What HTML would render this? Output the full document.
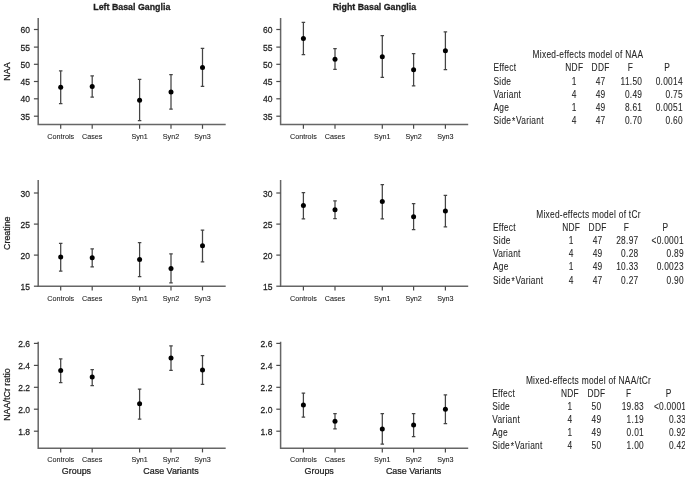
<!DOCTYPE html>
<html><head><meta charset="utf-8"><style>
html,body{margin:0;padding:0;background:#fff;width:685px;height:477px;overflow:hidden}
svg{display:block;will-change:transform;filter:blur(0.3px)}
text{font-family:"Liberation Sans", sans-serif;fill:#1e1e1e}
text.c{stroke:#1e1e1e;stroke-width:0.25px}
text.x{stroke:#1e1e1e;stroke-width:0.1px}
text.b{stroke:#1e1e1e;stroke-width:0.3px}
text.t{fill:#262626;stroke:#262626;stroke-width:0.08px;letter-spacing:0.3px}
</style></head><body>
<svg width="685" height="477" viewBox="0 0 685 477">
<text transform="translate(131.80,10.30) scale(0.92,1.0)" font-size="9.6" text-anchor="middle" font-weight="bold" class="b">Left Basal Ganglia</text>
<text transform="translate(374.40,10.30) scale(0.92,1.0)" font-size="9.6" text-anchor="middle" font-weight="bold" class="b">Right Basal Ganglia</text>
<text transform="translate(9.80,71.50) rotate(-90) scale(0.91,1.0)" font-size="9.8" text-anchor="middle" class="c">NAA</text>
<text transform="translate(9.90,233.20) rotate(-90) scale(0.92,1.0)" font-size="9.6" text-anchor="middle" class="c">Creatine</text>
<text transform="translate(9.90,394.60) rotate(-90) scale(0.93,1.0)" font-size="9.6" text-anchor="middle" class="c">NAA/tCr ratio</text>
<path d="M38.2 18.1V124.6H225.7" fill="none" stroke="#666" stroke-width="1.5"/>
<path d="M33.900000000000006 29.5H38.2" stroke="#4a4a4a" stroke-width="1.2"/>
<text transform="translate(30.00,33.10) scale(0.87,1.0)" font-size="9.8" text-anchor="end" class="c">60</text>
<path d="M33.900000000000006 47.1H38.2" stroke="#4a4a4a" stroke-width="1.2"/>
<text transform="translate(30.00,50.70) scale(0.87,1.0)" font-size="9.8" text-anchor="end" class="c">55</text>
<path d="M33.900000000000006 64.3H38.2" stroke="#4a4a4a" stroke-width="1.2"/>
<text transform="translate(30.00,67.90) scale(0.87,1.0)" font-size="9.8" text-anchor="end" class="c">50</text>
<path d="M33.900000000000006 81.5H38.2" stroke="#4a4a4a" stroke-width="1.2"/>
<text transform="translate(30.00,85.10) scale(0.87,1.0)" font-size="9.8" text-anchor="end" class="c">45</text>
<path d="M33.900000000000006 98.8H38.2" stroke="#4a4a4a" stroke-width="1.2"/>
<text transform="translate(30.00,102.40) scale(0.87,1.0)" font-size="9.8" text-anchor="end" class="c">40</text>
<path d="M33.900000000000006 116.2H38.2" stroke="#4a4a4a" stroke-width="1.2"/>
<text transform="translate(30.00,119.80) scale(0.87,1.0)" font-size="9.8" text-anchor="end" class="c">35</text>
<path d="M60.7 124.6V128.79999999999998" stroke="#4a4a4a" stroke-width="1.2"/>
<text transform="translate(60.70,138.90) scale(0.89,1.0)" font-size="8.1" text-anchor="middle" class="x">Controls</text>
<path d="M92.2 124.6V128.79999999999998" stroke="#4a4a4a" stroke-width="1.2"/>
<text transform="translate(92.20,138.90) scale(0.89,1.0)" font-size="8.1" text-anchor="middle" class="x">Cases</text>
<path d="M139.6 124.6V128.79999999999998" stroke="#4a4a4a" stroke-width="1.2"/>
<text transform="translate(139.60,138.90) scale(0.89,1.0)" font-size="8.1" text-anchor="middle" class="x">Syn1</text>
<path d="M171.0 124.6V128.79999999999998" stroke="#4a4a4a" stroke-width="1.2"/>
<text transform="translate(171.00,138.90) scale(0.89,1.0)" font-size="8.1" text-anchor="middle" class="x">Syn2</text>
<path d="M202.5 124.6V128.79999999999998" stroke="#4a4a4a" stroke-width="1.2"/>
<text transform="translate(202.50,138.90) scale(0.89,1.0)" font-size="8.1" text-anchor="middle" class="x">Syn3</text>
<path d="M60.7 70.8V103.6M58.95 70.8H62.45M58.95 103.6H62.45" stroke="#444" stroke-width="1.25"/>
<circle cx="60.7" cy="87.3" r="2.5" fill="#000"/>
<path d="M92.2 75.8V97.2M90.45 75.8H93.95M90.45 97.2H93.95" stroke="#444" stroke-width="1.25"/>
<circle cx="92.2" cy="86.5" r="2.5" fill="#000"/>
<path d="M139.6 79.39999999999999V120.6M137.85 79.39999999999999H141.35M137.85 120.6H141.35" stroke="#444" stroke-width="1.25"/>
<circle cx="139.6" cy="100.2" r="2.5" fill="#000"/>
<path d="M171.0 74.6V109.0M169.25 74.6H172.75M169.25 109.0H172.75" stroke="#444" stroke-width="1.25"/>
<circle cx="171.0" cy="92.0" r="2.5" fill="#000"/>
<path d="M202.5 48.4V86.39999999999999M200.75 48.4H204.25M200.75 86.39999999999999H204.25" stroke="#444" stroke-width="1.25"/>
<circle cx="202.5" cy="67.39999999999999" r="2.5" fill="#000"/>
<path d="M280.6 18.1V124.6H468.2" fill="none" stroke="#666" stroke-width="1.5"/>
<path d="M276.3 29.5H280.6" stroke="#4a4a4a" stroke-width="1.2"/>
<text transform="translate(272.40,33.10) scale(0.87,1.0)" font-size="9.8" text-anchor="end" class="c">60</text>
<path d="M276.3 47.1H280.6" stroke="#4a4a4a" stroke-width="1.2"/>
<text transform="translate(272.40,50.70) scale(0.87,1.0)" font-size="9.8" text-anchor="end" class="c">55</text>
<path d="M276.3 64.3H280.6" stroke="#4a4a4a" stroke-width="1.2"/>
<text transform="translate(272.40,67.90) scale(0.87,1.0)" font-size="9.8" text-anchor="end" class="c">50</text>
<path d="M276.3 81.5H280.6" stroke="#4a4a4a" stroke-width="1.2"/>
<text transform="translate(272.40,85.10) scale(0.87,1.0)" font-size="9.8" text-anchor="end" class="c">45</text>
<path d="M276.3 98.8H280.6" stroke="#4a4a4a" stroke-width="1.2"/>
<text transform="translate(272.40,102.40) scale(0.87,1.0)" font-size="9.8" text-anchor="end" class="c">40</text>
<path d="M276.3 116.2H280.6" stroke="#4a4a4a" stroke-width="1.2"/>
<text transform="translate(272.40,119.80) scale(0.87,1.0)" font-size="9.8" text-anchor="end" class="c">35</text>
<path d="M303.4 124.6V128.79999999999998" stroke="#4a4a4a" stroke-width="1.2"/>
<text transform="translate(303.40,138.90) scale(0.89,1.0)" font-size="8.1" text-anchor="middle" class="x">Controls</text>
<path d="M335.0 124.6V128.79999999999998" stroke="#4a4a4a" stroke-width="1.2"/>
<text transform="translate(335.00,138.90) scale(0.89,1.0)" font-size="8.1" text-anchor="middle" class="x">Cases</text>
<path d="M382.3 124.6V128.79999999999998" stroke="#4a4a4a" stroke-width="1.2"/>
<text transform="translate(382.30,138.90) scale(0.89,1.0)" font-size="8.1" text-anchor="middle" class="x">Syn1</text>
<path d="M413.6 124.6V128.79999999999998" stroke="#4a4a4a" stroke-width="1.2"/>
<text transform="translate(413.60,138.90) scale(0.89,1.0)" font-size="8.1" text-anchor="middle" class="x">Syn2</text>
<path d="M445.4 124.6V128.79999999999998" stroke="#4a4a4a" stroke-width="1.2"/>
<text transform="translate(445.40,138.90) scale(0.89,1.0)" font-size="8.1" text-anchor="middle" class="x">Syn3</text>
<path d="M303.4 22.400000000000002V54.599999999999994M301.65 22.400000000000002H305.15M301.65 54.599999999999994H305.15" stroke="#444" stroke-width="1.25"/>
<circle cx="303.4" cy="38.5" r="2.5" fill="#000"/>
<path d="M335.0 48.699999999999996V69.3M333.25 48.699999999999996H336.75M333.25 69.3H336.75" stroke="#444" stroke-width="1.25"/>
<circle cx="335.0" cy="59.199999999999996" r="2.5" fill="#000"/>
<path d="M382.3 35.699999999999996V77.39999999999999M380.55 35.699999999999996H384.05M380.55 77.39999999999999H384.05" stroke="#444" stroke-width="1.25"/>
<circle cx="382.3" cy="56.699999999999996" r="2.5" fill="#000"/>
<path d="M413.6 53.599999999999994V85.8M411.85 53.599999999999994H415.35M411.85 85.8H415.35" stroke="#444" stroke-width="1.25"/>
<circle cx="413.6" cy="69.7" r="2.5" fill="#000"/>
<path d="M445.4 31.8V69.7M443.65 31.8H447.15M443.65 69.7H447.15" stroke="#444" stroke-width="1.25"/>
<circle cx="445.4" cy="50.8" r="2.5" fill="#000"/>
<path d="M38.2 180.0V286.2H225.7" fill="none" stroke="#666" stroke-width="1.5"/>
<path d="M33.900000000000006 193.0H38.2" stroke="#4a4a4a" stroke-width="1.2"/>
<text transform="translate(30.00,196.60) scale(0.87,1.0)" font-size="9.8" text-anchor="end" class="c">30</text>
<path d="M33.900000000000006 224.1H38.2" stroke="#4a4a4a" stroke-width="1.2"/>
<text transform="translate(30.00,227.70) scale(0.87,1.0)" font-size="9.8" text-anchor="end" class="c">25</text>
<path d="M33.900000000000006 255.1H38.2" stroke="#4a4a4a" stroke-width="1.2"/>
<text transform="translate(30.00,258.70) scale(0.87,1.0)" font-size="9.8" text-anchor="end" class="c">20</text>
<path d="M33.900000000000006 286.2H38.2" stroke="#4a4a4a" stroke-width="1.2"/>
<text transform="translate(30.00,289.80) scale(0.87,1.0)" font-size="9.8" text-anchor="end" class="c">15</text>
<path d="M60.7 286.2V290.4" stroke="#4a4a4a" stroke-width="1.2"/>
<text transform="translate(60.70,300.50) scale(0.89,1.0)" font-size="8.1" text-anchor="middle" class="x">Controls</text>
<path d="M92.2 286.2V290.4" stroke="#4a4a4a" stroke-width="1.2"/>
<text transform="translate(92.20,300.50) scale(0.89,1.0)" font-size="8.1" text-anchor="middle" class="x">Cases</text>
<path d="M139.6 286.2V290.4" stroke="#4a4a4a" stroke-width="1.2"/>
<text transform="translate(139.60,300.50) scale(0.89,1.0)" font-size="8.1" text-anchor="middle" class="x">Syn1</text>
<path d="M171.0 286.2V290.4" stroke="#4a4a4a" stroke-width="1.2"/>
<text transform="translate(171.00,300.50) scale(0.89,1.0)" font-size="8.1" text-anchor="middle" class="x">Syn2</text>
<path d="M202.5 286.2V290.4" stroke="#4a4a4a" stroke-width="1.2"/>
<text transform="translate(202.50,300.50) scale(0.89,1.0)" font-size="8.1" text-anchor="middle" class="x">Syn3</text>
<path d="M60.7 243.3V271.0M58.95 243.3H62.45M58.95 271.0H62.45" stroke="#444" stroke-width="1.25"/>
<circle cx="60.7" cy="257.0" r="2.5" fill="#000"/>
<path d="M92.2 248.9V266.8M90.45 248.9H93.95M90.45 266.8H93.95" stroke="#444" stroke-width="1.25"/>
<circle cx="92.2" cy="257.7" r="2.5" fill="#000"/>
<path d="M139.6 242.60000000000002V276.6M137.85 242.60000000000002H141.35M137.85 276.6H141.35" stroke="#444" stroke-width="1.25"/>
<circle cx="139.6" cy="259.5" r="2.5" fill="#000"/>
<path d="M171.0 253.9V282.90000000000003M169.25 253.9H172.75M169.25 282.90000000000003H172.75" stroke="#444" stroke-width="1.25"/>
<circle cx="171.0" cy="268.6" r="2.5" fill="#000"/>
<path d="M202.5 230.0V261.90000000000003M200.75 230.0H204.25M200.75 261.90000000000003H204.25" stroke="#444" stroke-width="1.25"/>
<circle cx="202.5" cy="245.8" r="2.5" fill="#000"/>
<path d="M280.6 180.0V286.2H468.2" fill="none" stroke="#666" stroke-width="1.5"/>
<path d="M276.3 193.0H280.6" stroke="#4a4a4a" stroke-width="1.2"/>
<text transform="translate(272.40,196.60) scale(0.87,1.0)" font-size="9.8" text-anchor="end" class="c">30</text>
<path d="M276.3 224.1H280.6" stroke="#4a4a4a" stroke-width="1.2"/>
<text transform="translate(272.40,227.70) scale(0.87,1.0)" font-size="9.8" text-anchor="end" class="c">25</text>
<path d="M276.3 255.1H280.6" stroke="#4a4a4a" stroke-width="1.2"/>
<text transform="translate(272.40,258.70) scale(0.87,1.0)" font-size="9.8" text-anchor="end" class="c">20</text>
<path d="M276.3 286.2H280.6" stroke="#4a4a4a" stroke-width="1.2"/>
<text transform="translate(272.40,289.80) scale(0.87,1.0)" font-size="9.8" text-anchor="end" class="c">15</text>
<path d="M303.4 286.2V290.4" stroke="#4a4a4a" stroke-width="1.2"/>
<text transform="translate(303.40,300.50) scale(0.89,1.0)" font-size="8.1" text-anchor="middle" class="x">Controls</text>
<path d="M335.0 286.2V290.4" stroke="#4a4a4a" stroke-width="1.2"/>
<text transform="translate(335.00,300.50) scale(0.89,1.0)" font-size="8.1" text-anchor="middle" class="x">Cases</text>
<path d="M382.3 286.2V290.4" stroke="#4a4a4a" stroke-width="1.2"/>
<text transform="translate(382.30,300.50) scale(0.89,1.0)" font-size="8.1" text-anchor="middle" class="x">Syn1</text>
<path d="M413.6 286.2V290.4" stroke="#4a4a4a" stroke-width="1.2"/>
<text transform="translate(413.60,300.50) scale(0.89,1.0)" font-size="8.1" text-anchor="middle" class="x">Syn2</text>
<path d="M445.4 286.2V290.4" stroke="#4a4a4a" stroke-width="1.2"/>
<text transform="translate(445.40,300.50) scale(0.89,1.0)" font-size="8.1" text-anchor="middle" class="x">Syn3</text>
<path d="M303.4 192.5V218.8M301.65 192.5H305.15M301.65 218.8H305.15" stroke="#444" stroke-width="1.25"/>
<circle cx="303.4" cy="205.5" r="2.5" fill="#000"/>
<path d="M335.0 200.9V218.5M333.25 200.9H336.75M333.25 218.5H336.75" stroke="#444" stroke-width="1.25"/>
<circle cx="335.0" cy="209.70000000000002" r="2.5" fill="#000"/>
<path d="M382.3 184.5V218.8M380.55 184.5H384.05M380.55 218.8H384.05" stroke="#444" stroke-width="1.25"/>
<circle cx="382.3" cy="201.60000000000002" r="2.5" fill="#000"/>
<path d="M413.6 203.70000000000002V229.70000000000002M411.85 203.70000000000002H415.35M411.85 229.70000000000002H415.35" stroke="#444" stroke-width="1.25"/>
<circle cx="413.6" cy="216.70000000000002" r="2.5" fill="#000"/>
<path d="M445.4 195.3V226.9M443.65 195.3H447.15M443.65 226.9H447.15" stroke="#444" stroke-width="1.25"/>
<circle cx="445.4" cy="211.10000000000002" r="2.5" fill="#000"/>
<path d="M38.2 341.7V448.2H225.7" fill="none" stroke="#666" stroke-width="1.5"/>
<path d="M33.900000000000006 343.4H38.2" stroke="#4a4a4a" stroke-width="1.2"/>
<text transform="translate(30.00,347.00) scale(0.87,1.0)" font-size="9.8" text-anchor="end" class="c">2.6</text>
<path d="M33.900000000000006 365.4H38.2" stroke="#4a4a4a" stroke-width="1.2"/>
<text transform="translate(30.00,369.00) scale(0.87,1.0)" font-size="9.8" text-anchor="end" class="c">2.4</text>
<path d="M33.900000000000006 387.3H38.2" stroke="#4a4a4a" stroke-width="1.2"/>
<text transform="translate(30.00,390.90) scale(0.87,1.0)" font-size="9.8" text-anchor="end" class="c">2.2</text>
<path d="M33.900000000000006 409.2H38.2" stroke="#4a4a4a" stroke-width="1.2"/>
<text transform="translate(30.00,412.80) scale(0.87,1.0)" font-size="9.8" text-anchor="end" class="c">2.0</text>
<path d="M33.900000000000006 431.2H38.2" stroke="#4a4a4a" stroke-width="1.2"/>
<text transform="translate(30.00,434.80) scale(0.87,1.0)" font-size="9.8" text-anchor="end" class="c">1.8</text>
<path d="M60.7 448.2V452.4" stroke="#4a4a4a" stroke-width="1.2"/>
<text transform="translate(60.70,461.70) scale(0.89,1.0)" font-size="8.1" text-anchor="middle" class="x">Controls</text>
<path d="M92.2 448.2V452.4" stroke="#4a4a4a" stroke-width="1.2"/>
<text transform="translate(92.20,461.70) scale(0.89,1.0)" font-size="8.1" text-anchor="middle" class="x">Cases</text>
<path d="M139.6 448.2V452.4" stroke="#4a4a4a" stroke-width="1.2"/>
<text transform="translate(139.60,461.70) scale(0.89,1.0)" font-size="8.1" text-anchor="middle" class="x">Syn1</text>
<path d="M171.0 448.2V452.4" stroke="#4a4a4a" stroke-width="1.2"/>
<text transform="translate(171.00,461.70) scale(0.89,1.0)" font-size="8.1" text-anchor="middle" class="x">Syn2</text>
<path d="M202.5 448.2V452.4" stroke="#4a4a4a" stroke-width="1.2"/>
<text transform="translate(202.50,461.70) scale(0.89,1.0)" font-size="8.1" text-anchor="middle" class="x">Syn3</text>
<path d="M60.7 358.8V382.7M58.95 358.8H62.45M58.95 382.7H62.45" stroke="#444" stroke-width="1.25"/>
<circle cx="60.7" cy="370.40000000000003" r="2.5" fill="#000"/>
<path d="M92.2 369.7V385.5M90.45 369.7H93.95M90.45 385.5H93.95" stroke="#444" stroke-width="1.25"/>
<circle cx="92.2" cy="377.1" r="2.5" fill="#000"/>
<path d="M139.6 389.0V419.1M137.85 389.0H141.35M137.85 419.1H141.35" stroke="#444" stroke-width="1.25"/>
<circle cx="139.6" cy="403.7" r="2.5" fill="#000"/>
<path d="M171.0 345.90000000000003V370.40000000000003M169.25 345.90000000000003H172.75M169.25 370.40000000000003H172.75" stroke="#444" stroke-width="1.25"/>
<circle cx="171.0" cy="358.1" r="2.5" fill="#000"/>
<path d="M202.5 355.7V384.40000000000003M200.75 355.7H204.25M200.75 384.40000000000003H204.25" stroke="#444" stroke-width="1.25"/>
<circle cx="202.5" cy="370.1" r="2.5" fill="#000"/>
<text transform="translate(76.45,473.80) scale(0.93,1.0)" font-size="9.6" text-anchor="middle" class="c">Groups</text>
<text transform="translate(171.00,473.80) scale(0.93,1.0)" font-size="9.6" text-anchor="middle" class="c">Case Variants</text>
<path d="M280.6 341.7V448.2H468.2" fill="none" stroke="#666" stroke-width="1.5"/>
<path d="M276.3 343.4H280.6" stroke="#4a4a4a" stroke-width="1.2"/>
<text transform="translate(272.40,347.00) scale(0.87,1.0)" font-size="9.8" text-anchor="end" class="c">2.6</text>
<path d="M276.3 365.4H280.6" stroke="#4a4a4a" stroke-width="1.2"/>
<text transform="translate(272.40,369.00) scale(0.87,1.0)" font-size="9.8" text-anchor="end" class="c">2.4</text>
<path d="M276.3 387.3H280.6" stroke="#4a4a4a" stroke-width="1.2"/>
<text transform="translate(272.40,390.90) scale(0.87,1.0)" font-size="9.8" text-anchor="end" class="c">2.2</text>
<path d="M276.3 409.2H280.6" stroke="#4a4a4a" stroke-width="1.2"/>
<text transform="translate(272.40,412.80) scale(0.87,1.0)" font-size="9.8" text-anchor="end" class="c">2.0</text>
<path d="M276.3 431.2H280.6" stroke="#4a4a4a" stroke-width="1.2"/>
<text transform="translate(272.40,434.80) scale(0.87,1.0)" font-size="9.8" text-anchor="end" class="c">1.8</text>
<path d="M303.4 448.2V452.4" stroke="#4a4a4a" stroke-width="1.2"/>
<text transform="translate(303.40,461.70) scale(0.89,1.0)" font-size="8.1" text-anchor="middle" class="x">Controls</text>
<path d="M335.0 448.2V452.4" stroke="#4a4a4a" stroke-width="1.2"/>
<text transform="translate(335.00,461.70) scale(0.89,1.0)" font-size="8.1" text-anchor="middle" class="x">Cases</text>
<path d="M382.3 448.2V452.4" stroke="#4a4a4a" stroke-width="1.2"/>
<text transform="translate(382.30,461.70) scale(0.89,1.0)" font-size="8.1" text-anchor="middle" class="x">Syn1</text>
<path d="M413.6 448.2V452.4" stroke="#4a4a4a" stroke-width="1.2"/>
<text transform="translate(413.60,461.70) scale(0.89,1.0)" font-size="8.1" text-anchor="middle" class="x">Syn2</text>
<path d="M445.4 448.2V452.4" stroke="#4a4a4a" stroke-width="1.2"/>
<text transform="translate(445.40,461.70) scale(0.89,1.0)" font-size="8.1" text-anchor="middle" class="x">Syn3</text>
<path d="M303.4 393.2V417.0M301.65 393.2H305.15M301.65 417.0H305.15" stroke="#444" stroke-width="1.25"/>
<circle cx="303.4" cy="405.1" r="2.5" fill="#000"/>
<path d="M335.0 413.5V428.90000000000003M333.25 413.5H336.75M333.25 428.90000000000003H336.75" stroke="#444" stroke-width="1.25"/>
<circle cx="335.0" cy="421.2" r="2.5" fill="#000"/>
<path d="M382.3 413.5V444.0M380.55 413.5H384.05M380.55 444.0H384.05" stroke="#444" stroke-width="1.25"/>
<circle cx="382.3" cy="428.90000000000003" r="2.5" fill="#000"/>
<path d="M413.6 413.5V436.6M411.85 413.5H415.35M411.85 436.6H415.35" stroke="#444" stroke-width="1.25"/>
<circle cx="413.6" cy="425.1" r="2.5" fill="#000"/>
<path d="M445.4 394.90000000000003V423.7M443.65 394.90000000000003H447.15M443.65 423.7H447.15" stroke="#444" stroke-width="1.25"/>
<circle cx="445.4" cy="409.3" r="2.5" fill="#000"/>
<text transform="translate(319.20,473.80) scale(0.93,1.0)" font-size="9.6" text-anchor="middle" class="c">Groups</text>
<text transform="translate(413.60,473.80) scale(0.93,1.0)" font-size="9.6" text-anchor="middle" class="c">Case Variants</text>
<text transform="translate(587.90,58.30) scale(0.93,1.12)" font-size="9.0" text-anchor="middle" class="t">Mixed-effects model of NAA</text>
<text transform="translate(493.40,71.40) scale(0.93,1.12)" font-size="9.0" class="t">Effect</text>
<text transform="translate(574.30,71.40) scale(0.93,1.12)" font-size="9.0" text-anchor="middle" class="t">NDF</text>
<text transform="translate(600.60,71.40) scale(0.93,1.12)" font-size="9.0" text-anchor="middle" class="t">DDF</text>
<text transform="translate(630.40,71.40) scale(0.93,1.12)" font-size="9.0" text-anchor="middle" class="t">F</text>
<text transform="translate(667.10,71.40) scale(0.93,1.12)" font-size="9.0" text-anchor="middle" class="t">P</text>
<text transform="translate(493.40,84.80) scale(0.93,1.12)" font-size="9.0" class="t">Side</text>
<text transform="translate(574.30,84.80) scale(0.93,1.12)" font-size="9.0" text-anchor="middle" class="t">1</text>
<text transform="translate(600.60,84.80) scale(0.93,1.12)" font-size="9.0" text-anchor="middle" class="t">47</text>
<text transform="translate(642.30,84.80) scale(0.93,1.12)" font-size="9.0" text-anchor="end" class="t">11.50</text>
<text transform="translate(682.90,84.80) scale(0.93,1.12)" font-size="9.0" text-anchor="end" class="t">0.0014</text>
<text transform="translate(493.40,97.90) scale(0.93,1.12)" font-size="9.0" class="t">Variant</text>
<text transform="translate(574.30,97.90) scale(0.93,1.12)" font-size="9.0" text-anchor="middle" class="t">4</text>
<text transform="translate(600.60,97.90) scale(0.93,1.12)" font-size="9.0" text-anchor="middle" class="t">49</text>
<text transform="translate(642.30,97.90) scale(0.93,1.12)" font-size="9.0" text-anchor="end" class="t">0.49</text>
<text transform="translate(682.90,97.90) scale(0.93,1.12)" font-size="9.0" text-anchor="end" class="t">0.75</text>
<text transform="translate(493.40,111.00) scale(0.93,1.12)" font-size="9.0" class="t">Age</text>
<text transform="translate(574.30,111.00) scale(0.93,1.12)" font-size="9.0" text-anchor="middle" class="t">1</text>
<text transform="translate(600.60,111.00) scale(0.93,1.12)" font-size="9.0" text-anchor="middle" class="t">49</text>
<text transform="translate(642.30,111.00) scale(0.93,1.12)" font-size="9.0" text-anchor="end" class="t">8.61</text>
<text transform="translate(682.90,111.00) scale(0.93,1.12)" font-size="9.0" text-anchor="end" class="t">0.0051</text>
<text transform="translate(493.40,124.10) scale(0.93,1.12)" font-size="9.0" class="t">Side<tspan dx="0.7" dy="1.1">*</tspan><tspan dx="0.6" dy="-1.1">Variant</tspan></text>
<text transform="translate(574.30,124.10) scale(0.93,1.12)" font-size="9.0" text-anchor="middle" class="t">4</text>
<text transform="translate(600.60,124.10) scale(0.93,1.12)" font-size="9.0" text-anchor="middle" class="t">47</text>
<text transform="translate(642.30,124.10) scale(0.93,1.12)" font-size="9.0" text-anchor="end" class="t">0.70</text>
<text transform="translate(682.90,124.10) scale(0.93,1.12)" font-size="9.0" text-anchor="end" class="t">0.60</text>
<text transform="translate(588.50,218.30) scale(0.93,1.12)" font-size="9.0" text-anchor="middle" class="t">Mixed-effects model of tCr</text>
<text transform="translate(492.90,231.10) scale(0.93,1.12)" font-size="9.0" class="t">Effect</text>
<text transform="translate(571.20,231.10) scale(0.93,1.12)" font-size="9.0" text-anchor="middle" class="t">NDF</text>
<text transform="translate(597.60,231.10) scale(0.93,1.12)" font-size="9.0" text-anchor="middle" class="t">DDF</text>
<text transform="translate(626.40,231.10) scale(0.93,1.12)" font-size="9.0" text-anchor="middle" class="t">F</text>
<text transform="translate(665.50,231.10) scale(0.93,1.12)" font-size="9.0" text-anchor="middle" class="t">P</text>
<text transform="translate(492.90,244.30) scale(0.93,1.12)" font-size="9.0" class="t">Side</text>
<text transform="translate(571.20,244.30) scale(0.93,1.12)" font-size="9.0" text-anchor="middle" class="t">1</text>
<text transform="translate(597.60,244.30) scale(0.93,1.12)" font-size="9.0" text-anchor="middle" class="t">47</text>
<text transform="translate(638.50,244.30) scale(0.93,1.12)" font-size="9.0" text-anchor="end" class="t">28.97</text>
<text transform="translate(683.90,244.30) scale(0.93,1.12)" font-size="9.0" text-anchor="end" class="t">&lt;0.0001</text>
<text transform="translate(492.90,257.20) scale(0.93,1.12)" font-size="9.0" class="t">Variant</text>
<text transform="translate(571.20,257.20) scale(0.93,1.12)" font-size="9.0" text-anchor="middle" class="t">4</text>
<text transform="translate(597.60,257.20) scale(0.93,1.12)" font-size="9.0" text-anchor="middle" class="t">49</text>
<text transform="translate(638.50,257.20) scale(0.93,1.12)" font-size="9.0" text-anchor="end" class="t">0.28</text>
<text transform="translate(683.90,257.20) scale(0.93,1.12)" font-size="9.0" text-anchor="end" class="t">0.89</text>
<text transform="translate(492.90,270.30) scale(0.93,1.12)" font-size="9.0" class="t">Age</text>
<text transform="translate(571.20,270.30) scale(0.93,1.12)" font-size="9.0" text-anchor="middle" class="t">1</text>
<text transform="translate(597.60,270.30) scale(0.93,1.12)" font-size="9.0" text-anchor="middle" class="t">49</text>
<text transform="translate(638.50,270.30) scale(0.93,1.12)" font-size="9.0" text-anchor="end" class="t">10.33</text>
<text transform="translate(683.90,270.30) scale(0.93,1.12)" font-size="9.0" text-anchor="end" class="t">0.0023</text>
<text transform="translate(492.90,283.60) scale(0.93,1.12)" font-size="9.0" class="t">Side<tspan dx="0.7" dy="1.1">*</tspan><tspan dx="0.6" dy="-1.1">Variant</tspan></text>
<text transform="translate(571.20,283.60) scale(0.93,1.12)" font-size="9.0" text-anchor="middle" class="t">4</text>
<text transform="translate(597.60,283.60) scale(0.93,1.12)" font-size="9.0" text-anchor="middle" class="t">47</text>
<text transform="translate(638.50,283.60) scale(0.93,1.12)" font-size="9.0" text-anchor="end" class="t">0.27</text>
<text transform="translate(683.90,283.60) scale(0.93,1.12)" font-size="9.0" text-anchor="end" class="t">0.90</text>
<text transform="translate(588.50,383.80) scale(0.93,1.12)" font-size="9.0" text-anchor="middle" class="t">Mixed-effects model of NAA/tCr</text>
<text transform="translate(492.20,396.60) scale(0.93,1.12)" font-size="9.0" class="t">Effect</text>
<text transform="translate(570.00,396.60) scale(0.93,1.12)" font-size="9.0" text-anchor="middle" class="t">NDF</text>
<text transform="translate(596.40,396.60) scale(0.93,1.12)" font-size="9.0" text-anchor="middle" class="t">DDF</text>
<text transform="translate(628.60,396.60) scale(0.93,1.12)" font-size="9.0" text-anchor="middle" class="t">F</text>
<text transform="translate(668.60,396.60) scale(0.93,1.12)" font-size="9.0" text-anchor="middle" class="t">P</text>
<text transform="translate(492.20,409.80) scale(0.93,1.12)" font-size="9.0" class="t">Side</text>
<text transform="translate(570.00,409.80) scale(0.93,1.12)" font-size="9.0" text-anchor="middle" class="t">1</text>
<text transform="translate(596.40,409.80) scale(0.93,1.12)" font-size="9.0" text-anchor="middle" class="t">50</text>
<text transform="translate(644.00,409.80) scale(0.93,1.12)" font-size="9.0" text-anchor="end" class="t">19.83</text>
<text transform="translate(686.30,409.80) scale(0.93,1.12)" font-size="9.0" text-anchor="end" class="t">&lt;0.0001</text>
<text transform="translate(492.20,422.90) scale(0.93,1.12)" font-size="9.0" class="t">Variant</text>
<text transform="translate(570.00,422.90) scale(0.93,1.12)" font-size="9.0" text-anchor="middle" class="t">4</text>
<text transform="translate(596.40,422.90) scale(0.93,1.12)" font-size="9.0" text-anchor="middle" class="t">49</text>
<text transform="translate(644.00,422.90) scale(0.93,1.12)" font-size="9.0" text-anchor="end" class="t">1.19</text>
<text transform="translate(686.30,422.90) scale(0.93,1.12)" font-size="9.0" text-anchor="end" class="t">0.33</text>
<text transform="translate(492.20,435.80) scale(0.93,1.12)" font-size="9.0" class="t">Age</text>
<text transform="translate(570.00,435.80) scale(0.93,1.12)" font-size="9.0" text-anchor="middle" class="t">1</text>
<text transform="translate(596.40,435.80) scale(0.93,1.12)" font-size="9.0" text-anchor="middle" class="t">49</text>
<text transform="translate(644.00,435.80) scale(0.93,1.12)" font-size="9.0" text-anchor="end" class="t">0.01</text>
<text transform="translate(686.30,435.80) scale(0.93,1.12)" font-size="9.0" text-anchor="end" class="t">0.92</text>
<text transform="translate(492.20,449.10) scale(0.93,1.12)" font-size="9.0" class="t">Side<tspan dx="0.7" dy="1.1">*</tspan><tspan dx="0.6" dy="-1.1">Variant</tspan></text>
<text transform="translate(570.00,449.10) scale(0.93,1.12)" font-size="9.0" text-anchor="middle" class="t">4</text>
<text transform="translate(596.40,449.10) scale(0.93,1.12)" font-size="9.0" text-anchor="middle" class="t">50</text>
<text transform="translate(644.00,449.10) scale(0.93,1.12)" font-size="9.0" text-anchor="end" class="t">1.00</text>
<text transform="translate(686.30,449.10) scale(0.93,1.12)" font-size="9.0" text-anchor="end" class="t">0.42</text>
</svg>
</body></html>
